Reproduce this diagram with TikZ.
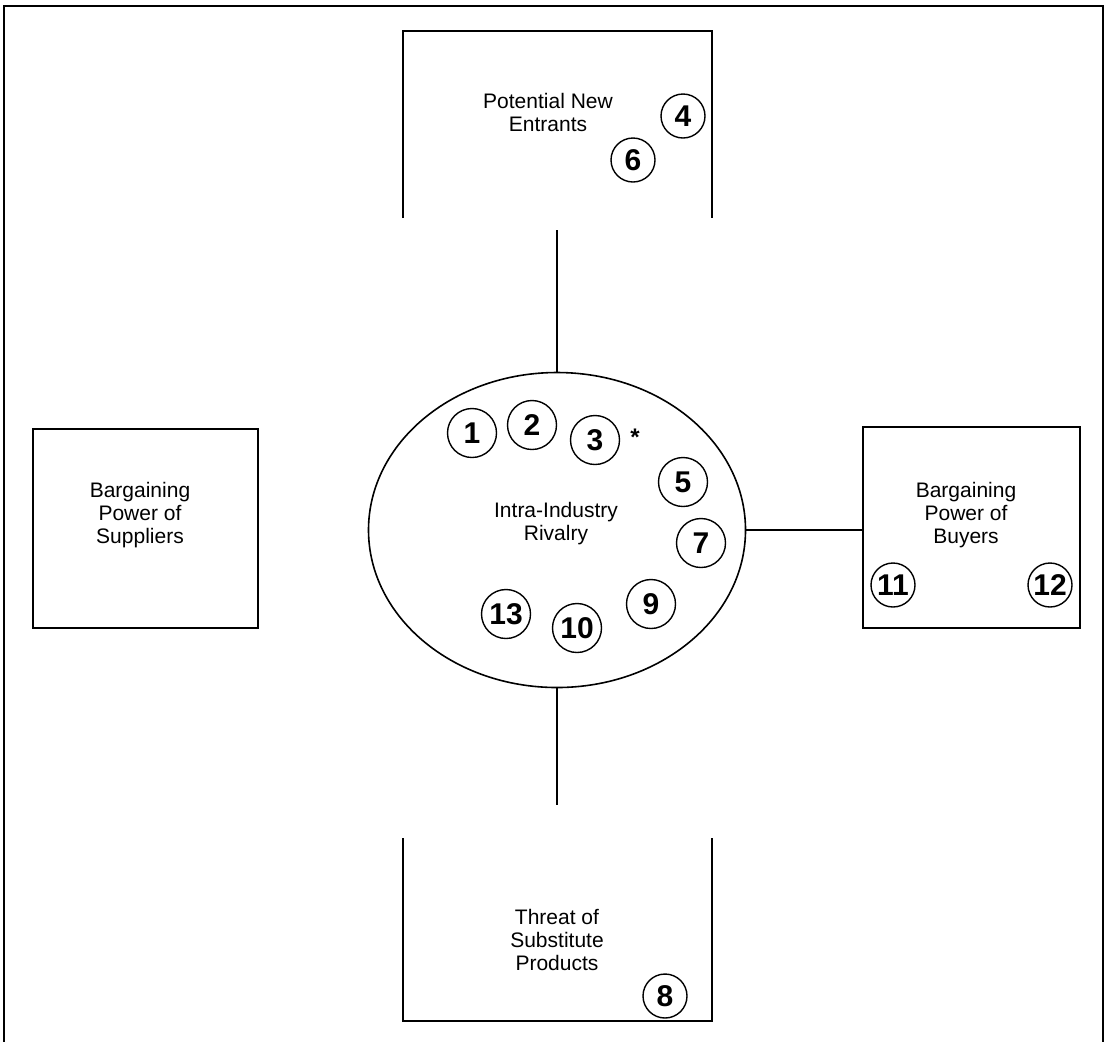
\documentclass[tikz,border=0pt]{standalone}
\usepackage{fontspec}
\setmainfont{Liberation Sans}
\usetikzlibrary{shapes.geometric}
\tikzset{
    forcebox/.style={draw,line width=1pt,inner sep=0pt},
    forcetext/.style={align=center,font=\fontsize{10.5}{11.5}\selectfont},
    factor/.style={draw,circle,line width=0.7pt,inner sep=0pt,minimum size=24.5pt,
        font=\fontsize{15}{15}\selectfont\bfseries},
    smallfactor/.style={factor,minimum size=22pt},
}

\begin{document}
\begin{tikzpicture}[x=0.5pt,y=-0.5pt,line width=1pt]
    \useasboundingbox (0,0) rectangle (1107,1041);
    % outer frame, runs off the bottom of the page
    \draw (4,1060) -- (4,6) -- (1103,6) -- (1103,1060);
    % open boxes at top and bottom
    \draw (403,218) -- (403,31) -- (712,31) -- (712,218);
    \draw (403,838) -- (403,1021) -- (712,1021) -- (712,838);
    \node[forcetext] (entrants) at (548,112) {Potential New\\Entrants};
    \node[forcetext] (substitutes) at (557,940) {Threat of\\Substitute\\Products};
    \coordinate (entrantsend) at (557,230);
    \coordinate (substitutesend) at (557,805);
    % side boxes
    \node[forcebox,minimum width=112.5pt,minimum height=99.5pt] (suppliers) at (145.5,528.5) {};
    \node[forcetext] at (140,515) {Bargaining\\Power of\\Suppliers};
    \node[forcebox,minimum width=108.5pt,minimum height=100.5pt] (buyers) at (971.5,527.5) {};
    \node[forcetext] at (966,515) {Bargaining\\Power of\\Buyers};
    % rivalry
    \node[draw,ellipse,line width=0.8pt,inner sep=0pt,minimum width=188.5pt,minimum height=157.5pt] (rivalry) at (557,530) {};
    \node[forcetext] at (556,524) {Intra-Industry\\Rivalry};
    \draw (rivalry.north) -- (entrantsend);
    \draw (rivalry.south) -- (substitutesend);
    \draw (rivalry.east) -- (rivalry.east -| buyers.west);
    % numbered factors
    \node[factor] (f1) at (472,433) {1};
    \node[factor] (f2) at (532,425) {2};
    \node[factor] (f3) at (595,440) {3};
    \node[font=\fontsize{12}{12}\selectfont\bfseries] (star) at (635,437) {*};
    \node[factor] (f5) at (683,482) {5};
    \node[factor] (f7) at (701,543) {7};
    \node[factor] (f9) at (651,604) {9};
    \node[factor] (f13) at (506,614) {13};
    \node[factor] (f10) at (577,628) {10};
    \node[smallfactor] (f4) at (683,116) {4};
    \node[smallfactor] (f6) at (633,160) {6};
    \node[smallfactor] (f8) at (665,996) {8};
    \node[smallfactor] (f11) at (893,585) {11};
    \node[smallfactor] (f12) at (1050,585) {12};
\end{tikzpicture}
\end{document}
